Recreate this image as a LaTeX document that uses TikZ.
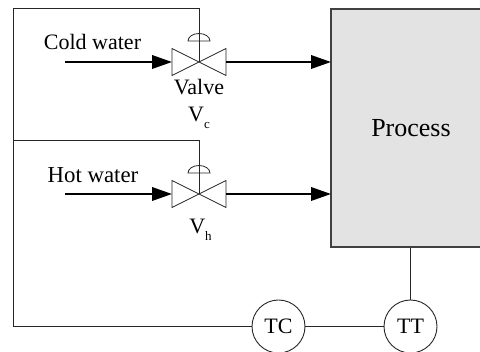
\documentclass[tikz,border=0pt]{standalone}
\usepackage{fontspec}
\setmainfont{Liberation Serif}
\usetikzlibrary{arrows.meta}
\tikzset{
  x=1pt,y=-1pt,
  wire/.style={line width=1pt,draw=black!85},
  flow/.style={line width=2pt,draw=black,-{Triangle[length=20pt,width=13.5pt]}},
  sensor/.style={circle,draw=black!85,line width=0.9pt,fill=white,minimum size=53pt,inner sep=0pt,font=\fontsize{22}{22}\selectfont},
  lbl/.style={font=\fontsize{22}{22}\selectfont,inner sep=0pt,anchor=base},
  valvebody/.style={draw=black!85,line width=0.8pt,fill=white},
  process/.style={draw=black!75,line width=1.2pt,fill=black!11,minimum width=160pt,minimum height=238pt,inner sep=0pt,font=\fontsize{26}{26}\selectfont}
}
\newcommand{\valvesym}[2]{%
  \draw[valvebody] (#1-27,#2-13.5) -- (#1+27,#2+13.5) -- (#1+27,#2-13.5) -- (#1-27,#2+13.5) -- cycle;
  \draw[valvebody] (#1-11,#2-21) arc[start angle=180,end angle=0,x radius=11,y radius=-7.5] -- cycle;
  \draw[wire] (#1,#2-21) -- (#1,#2);
}
\begin{document}
\begin{tikzpicture}
\useasboundingbox (0,0) rectangle (480,352);
\node[process] (proc) at (411,128) {Process};
\node[sensor] (tc) at (278.5,326.5) {TC};
\node[sensor] (tt) at (410.5,326.5) {TT};
\coordinate (cs) at (65,62);
\coordinate (hs) at (65,194);
\valvesym{199}{62}
\valvesym{199}{194}
\coordinate (ctop) at (199,9);
\coordinate (htop) at (199,141);
\coordinate (cl) at (13,9);
\coordinate (hl) at (13,141);
\coordinate (bl) at (13,326.5);
\draw[wire] (tc) -- (bl) -- (cl) -- (ctop) -- (199,41);
\draw[wire] (hl) -- (htop) -- (199,173);
\draw[wire] (tc) -- (tt);
\draw[wire] (proc.south -| tt) -- (tt);
\draw[flow] (cs) -- (172,62);
\draw[flow] (hs) -- (172,194);
\draw[flow] (226,62) -- (331,62);
\draw[flow] (226,194) -- (331,194);
\node[lbl] (cw) at (92.5,50) {Cold water};
\node[lbl,font=\fontsize{22.8}{22.8}\selectfont] (hw) at (93,182.5) {Hot water};
\node[lbl] (vl) at (199,95) {Valve};
\node[lbl] (vc) at (199,121.5) {V\raisebox{-7pt}{\fontsize{13}{13}\selectfont c}};
\node[lbl] (vh) at (200.5,234) {V\raisebox{-7pt}{\fontsize{13}{13}\selectfont h}};
\end{tikzpicture}
\end{document}
